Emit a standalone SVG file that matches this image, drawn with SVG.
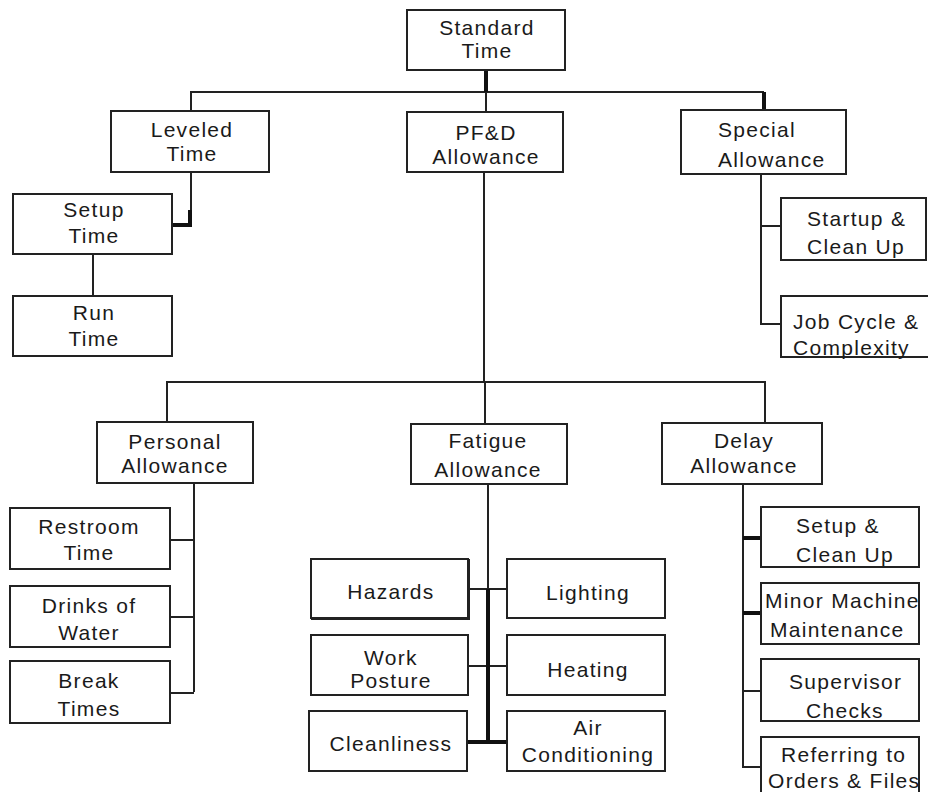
<svg xmlns="http://www.w3.org/2000/svg" width="928" height="792" viewBox="0 0 928 792">
<style>
.box{fill:#fff;stroke:#222;stroke-width:2}
.ln{fill:none;stroke:#222;stroke-width:2}
.tk{fill:none;stroke:#111;stroke-width:4}
text{font-family:"Liberation Sans",Arial,sans-serif;font-size:21px;letter-spacing:1.3px;fill:#1a1a1a}
.m{text-anchor:middle}
</style>
<rect x="0" y="0" width="928" height="792" fill="#fff"/>
<g id="connectors">
<path class="ln" d="M191,111 V92 H764"/>
<path class="tk" d="M486,70 V92"/>
<path class="ln" d="M486,92 V112"/>
<path class="tk" d="M764,92 V110"/>
<path class="ln" d="M191,172 V212"/>
<path class="tk" d="M190,210 V225 H172"/>
<path class="ln" d="M93,254 V296"/>
<path class="ln" d="M761,174 V324 H781 M761,226 H781"/>
<path class="ln" d="M484,172 V382 M167,422 V382 H765 V423 M485,382 V424"/>
<path class="ln" d="M194,483 V692 M170,540 H194 M170,617 H194 M170,693 H194"/>
<path class="ln" d="M488,484 V589 M468,589 H507 M468,666 H507"/>
<path class="tk" d="M488,589 V742 M467,742 H507"/>
<path class="ln" d="M743,484 V767 H761 M743,691 H761"/>
<path class="tk" d="M743,538 H761 M743,613 H761"/>
</g>
<g id="standard-time"><rect class="box" x="407" y="10" width="158" height="60"/><text class="m" x="487" y="35">Standard</text><text class="m" x="487" y="58">Time</text></g>
<g id="leveled-time"><rect class="box" x="111" y="111" width="158" height="61"/><text class="m" x="192" y="137">Leveled</text><text class="m" x="192" y="161">Time</text></g>
<g id="pfd-allowance"><rect class="box" x="407" y="112" width="156" height="60"/><text class="m" x="486" y="140">PF&amp;D</text><text class="m" x="486" y="164">Allowance</text></g>
<g id="special-allowance"><rect class="box" x="681" y="110" width="165" height="64"/><text x="718" y="137">Special</text><text x="718" y="167">Allowance</text></g>
<g id="setup-time"><rect class="box" x="13" y="194" width="159" height="60"/><text class="m" x="94" y="217">Setup</text><text class="m" x="94" y="243">Time</text></g>
<g id="run-time"><rect class="box" x="13" y="296" width="159" height="60"/><text class="m" x="94" y="320">Run</text><text class="m" x="94" y="346">Time</text></g>
<g id="startup-clean-up"><rect class="box" x="781" y="198" width="145" height="62"/><text x="807" y="226">Startup &amp;</text><text x="807" y="254">Clean Up</text></g>
<g id="job-cycle"><rect class="box" x="781" y="296" width="150" height="61"/><text x="793" y="329">Job Cycle &amp;</text><text x="793" y="355">Complexity</text></g>
<g id="personal-allowance"><rect class="box" x="97" y="422" width="156" height="61"/><text class="m" x="175" y="449">Personal</text><text class="m" x="175" y="473">Allowance</text></g>
<g id="fatigue-allowance"><rect class="box" x="411" y="424" width="156" height="60"/><text class="m" x="488" y="448">Fatigue</text><text class="m" x="488" y="477">Allowance</text></g>
<g id="delay-allowance"><rect class="box" x="662" y="423" width="160" height="61"/><text class="m" x="744" y="448">Delay</text><text class="m" x="744" y="473">Allowance</text></g>
<g id="restroom-time"><rect class="box" x="10" y="508" width="160" height="61"/><text class="m" x="89" y="534">Restroom</text><text class="m" x="89" y="560">Time</text></g>
<g id="drinks-of-water"><rect class="box" x="10" y="586" width="160" height="61"/><text class="m" x="89" y="613">Drinks of</text><text class="m" x="89" y="640">Water</text></g>
<g id="break-times"><rect class="box" x="10" y="661" width="160" height="62"/><text class="m" x="89" y="688">Break</text><text class="m" x="89" y="716">Times</text></g>
<g id="hazards"><rect class="box" x="311" y="559" width="157" height="59"/><path class="ln" d="M469,559 V619 H311" stroke-width="3"/><text class="m" x="391" y="599">Hazards</text></g>
<g id="lighting"><rect class="box" x="507" y="559" width="158" height="59"/><text class="m" x="588" y="600">Lighting</text></g>
<g id="work-posture"><rect class="box" x="311" y="635" width="157" height="60"/><text class="m" x="391" y="665">Work</text><text class="m" x="391" y="688">Posture</text></g>
<g id="heating"><rect class="box" x="507" y="635" width="158" height="60"/><text class="m" x="588" y="677">Heating</text></g>
<g id="cleanliness"><rect class="box" x="309" y="711" width="158" height="60"/><text class="m" x="391" y="751">Cleanliness</text></g>
<g id="air-conditioning"><rect class="box" x="507" y="711" width="158" height="60"/><text class="m" x="588" y="735">Air</text><text class="m" x="588" y="762">Conditioning</text></g>
<g id="setup-clean-up"><rect class="box" x="761" y="507" width="158" height="60"/><text x="796" y="533">Setup &amp;</text><text x="796" y="562">Clean Up</text></g>
<g id="minor-machine"><rect class="box" x="761" y="583" width="158" height="61"/><text x="765" y="608">Minor Machine</text><text x="770" y="637">Maintenance</text></g>
<g id="supervisor-checks"><rect class="box" x="761" y="659" width="158" height="62"/><text x="789" y="689">Supervisor</text><text x="806" y="718">Checks</text></g>
<g id="referring"><rect class="box" x="761" y="737" width="158" height="60"/><text x="781" y="762">Referring to</text><text x="768" y="788">Orders &amp; Files</text></g>
</svg>
